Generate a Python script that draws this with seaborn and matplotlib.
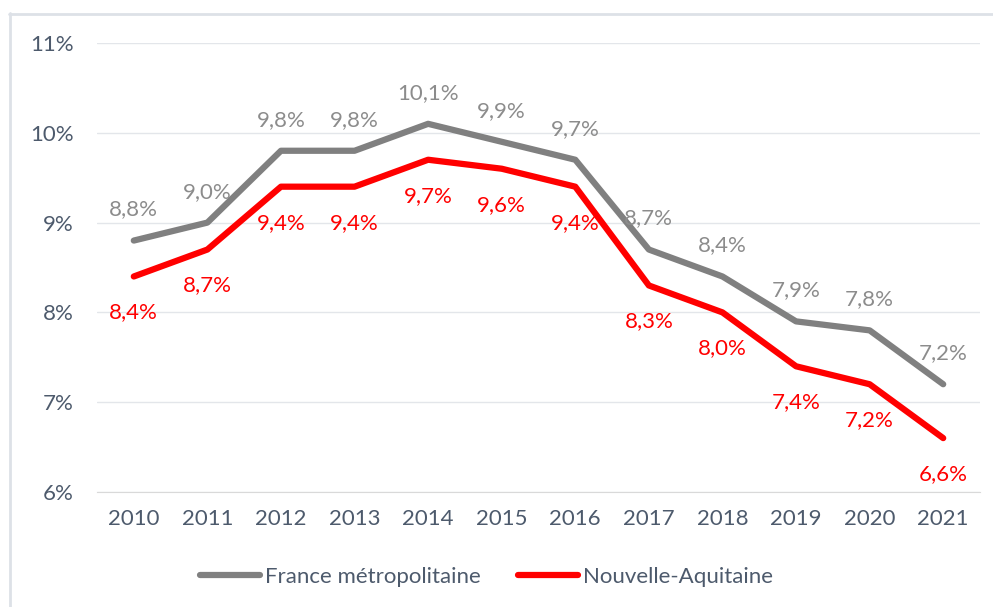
import pandas as pd
import seaborn as sns
import matplotlib.pyplot as plt
from matplotlib.lines import Line2D
from matplotlib.ticker import FixedLocator, FuncFormatter

years = [2010, 2011, 2012, 2013, 2014, 2015, 2016, 2017, 2018, 2019, 2020, 2021]
france = [8.8, 9.0, 9.8, 9.8, 10.1, 9.9, 9.7, 8.7, 8.4, 7.9, 7.8, 7.2]
nouvelle_aquitaine = [8.4, 8.7, 9.4, 9.4, 9.7, 9.6, 9.4, 8.3, 8.0, 7.4, 7.2, 6.6]
series_names = ["France métropolitaine", "Nouvelle-Aquitaine"]
colors = ["#808080", "#ff0000"]

df = pd.DataFrame({
    "year": list(range(len(years))) * 2,
    "value": france + nouvelle_aquitaine,
    "serie": [series_names[0]] * len(years) + [series_names[1]] * len(years),
})

sns.set_style("white")
plt.rcParams["font.family"] = ["Lato", "DejaVu Sans"]
text_col = "#4d5a6c"
fs = 16

fig = plt.figure(figsize=(9.93, 6.07), dpi=100)
ax = fig.add_axes([97 / 993, 1 - 492 / 607, (980 - 97) / 993, (492 - 43) / 607])

sns.lineplot(data=df, x="year", y="value", hue="serie", palette=colors,
             linewidth=4.5, ax=ax, legend=False, solid_capstyle="round")

ax.set_xlim(-0.5, len(years) - 0.5)
ax.set_ylim(6, 11)
ax.set_yticks([6, 7, 8, 9, 10, 11])
ax.yaxis.set_major_formatter(FuncFormatter(lambda v, p: f"{v:.0f}%"))
ax.set_xticks(range(len(years)))
ax.set_xticklabels([str(y) for y in years])
ax.xaxis.set_minor_locator(FixedLocator([i - 0.5 for i in range(len(years) + 1)]))
ax.tick_params(axis="x", which="major", length=0, pad=12, labelsize=fs, labelcolor=text_col)
ax.tick_params(axis="x", which="minor", length=6, color="#d9d9d9", width=1, direction="out")
ax.tick_params(axis="y", length=0, pad=17, labelsize=fs, labelcolor=text_col)
ax.set_xlabel("")
ax.set_ylabel("")
ax.grid(axis="y", color="#e3e6ea", linewidth=1)
for s in ["top", "right", "left"]:
    ax.spines[s].set_visible(False)
ax.spines["bottom"].set_color("#d9d9d9")

for i, v in enumerate(france):
    ax.annotate(f"{v:.1f}%".replace(".", ","), (i, v), xytext=(0, 31),
                textcoords="offset pixels", ha="center", va="center",
                fontsize=fs, color="#8c8c8c")
for i, v in enumerate(nouvelle_aquitaine):
    ax.annotate(f"{v:.1f}%".replace(".", ","), (i, v), xytext=(0, -36),
                textcoords="offset pixels", ha="center", va="center",
                fontsize=fs, color="#ff0000")

handles = [Line2D([0], [0], color=c, linewidth=4.5, solid_capstyle="round") for c in colors]
fig.legend(handles, series_names, loc="center", bbox_to_anchor=(0.49, 1 - 577 / 607),
           ncol=2, frameon=False, fontsize=fs, labelcolor=text_col,
           handlelength=2.7, handletextpad=0.2, columnspacing=1.7)

# light frame around the chart
fig.add_artist(Line2D([9.5 / 993, 9.5 / 993], [0, 1 - 13 / 607], color="#dde1e7", linewidth=2))
fig.add_artist(Line2D([9 / 993, 1], [1 - 13.5 / 607, 1 - 13.5 / 607], color="#dde1e7", linewidth=2))

plt.savefig("out.png", dpi=100)
